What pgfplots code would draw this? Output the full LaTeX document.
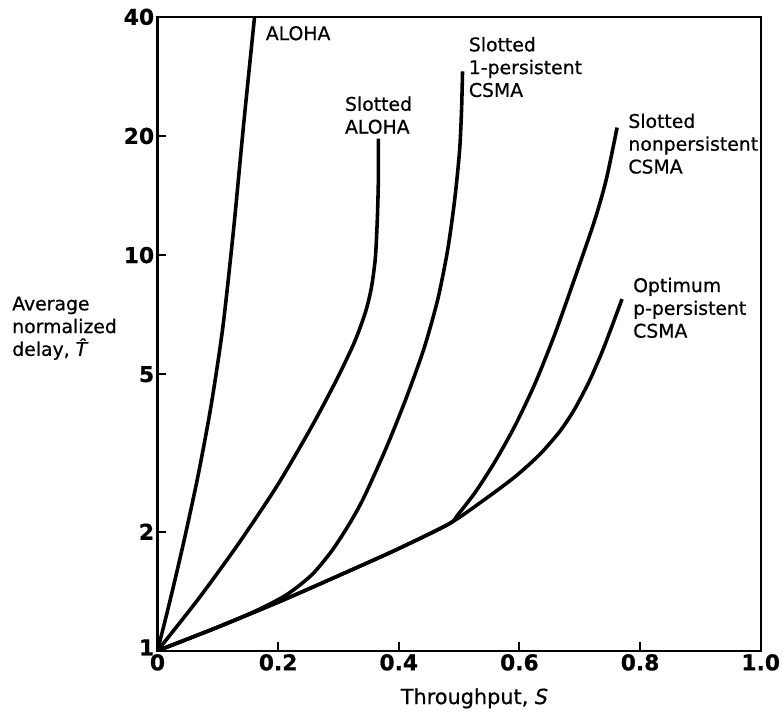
\documentclass[border=0pt]{standalone}
\usepackage{fontspec}
\setmainfont{DejaVu Sans}[FakeBold=0.6]
\usepackage{pgfplots}
\pgfplotsset{compat=1.18}
\begin{document}
\begin{tikzpicture}
\begin{axis}[
  scale only axis, width=304.5pt, height=320pt,
  xmin=0, xmax=1, ymin=1, ymax=40, ymode=log,
  xtick={0,0.2,0.4,0.6,0.8,1}, xticklabels={0,0.2,0.4,0.6,0.8,1.0},
  ytick={1,2,5,10,20,40}, yticklabels={\raisebox{3.5pt}{1},2,5,10,20,40},
  yminorticks=false, xminorticks=false,
  tick align=inside, major tick length=4.5pt,
  xtick pos=lower, ytick pos=left,
  axis line style={line width=1.2pt},
  tick style={line width=1pt, black},
  /pgf/number format/assume math mode=true,
  ticklabel style={font=\bfseries\fontsize{11}{13}\selectfont},
  yticklabel style={inner sep=1.5pt},
  xticklabel style={inner sep=1.5pt},
  cycle list={{black}},
  every axis plot/.append style={line width=1.8pt, black, no marks, smooth, tension=0.45},
  clip=true,
]
% ALOHA
\addplot coordinates {(0,1) (0.0213,1.349) (0.0443,1.907) (0.0673,2.774) (0.0887,4.152) (0.1084,6.584) (0.1264,11.72) (0.1429,21.46) (0.1609,40)};
% Slotted ALOHA
\addplot coordinates {(0,1) (0.0673,1.349) (0.1330,1.853) (0.1987,2.618) (0.2562,3.700) (0.2972,4.852) (0.3268,6.039) (0.3448,7.179) (0.3547,8.290) (0.3612,9.856) (0.3645,12.41) (0.3662,15.63) (0.3662,19.69)};
% Slotted 1-persistent CSMA
\addplot coordinates {(0,1) (0.1002,1.148) (0.1658,1.267) (0.2151,1.389) (0.2562,1.558) (0.2890,1.789) (0.3169,2.079) (0.3415,2.429) (0.3793,3.260) (0.4122,4.347) (0.4417,5.800) (0.4647,7.738) (0.4811,10.32) (0.4926,13.77) (0.5008,18.37) (0.5041,23.40) (0.5057,29.13)};
% Slotted nonpersistent CSMA
\addplot coordinates {(0,1) (0.1002,1.148) (0.2036,1.334) (0.2972,1.541) (0.3957,1.800) (0.4828,2.091) (0.4975,2.203) (0.5271,2.520) (0.5599,3.014) (0.5928,3.709) (0.6256,4.725) (0.6585,6.302) (0.6913,8.705) (0.7241,12.16) (0.7438,15.49) (0.7619,21.00)};
% Optimum p-persistent CSMA
\addplot coordinates {(0,1) (0.1002,1.148) (0.2036,1.334) (0.2972,1.541) (0.3957,1.800) (0.4828,2.091) (0.5386,2.389) (0.5928,2.754) (0.6338,3.136) (0.6667,3.581) (0.6913,4.076) (0.7159,4.804) (0.7373,5.706) (0.7553,6.730) (0.7701,7.743)};

\begin{scope}[every node/.style={font=\fontsize{9.5}{11.5}\selectfont, align=left, inner sep=0pt, anchor=north west}]
\node at (rel axis cs:0.179,0.986) {ALOHA};
\node at (rel axis cs:0.3103,0.875) {Slotted\\ALOHA};
\node at (rel axis cs:0.5156,0.9688) {Slotted\\1-persistent\\CSMA};
\node at (rel axis cs:0.780,0.848) {Slotted\\nonpersistent\\CSMA};
\node at (rel axis cs:0.788,0.589) {Optimum\\p-persistent\\CSMA};
\end{scope}
\end{axis}
\node[anchor=north west, align=left, inner sep=0pt, font=\fontsize{9.5}{11.5}\selectfont]
  at ([xshift=-73.5pt,yshift=179pt]current axis.south west) {Average\\normalized\\delay, {\itshape\^T}};
\node[anchor=center, inner sep=0pt, font=\fontsize{10.5}{12}\selectfont]
  at ([xshift=160pt,yshift=-24pt]current axis.south west) {Throughput, \textit{S}};
\path ([xshift=-79.5pt,yshift=-31pt]current axis.south west) rectangle ([xshift=7.5pt,yshift=8.5pt]current axis.north east);
\end{tikzpicture}
\end{document}
